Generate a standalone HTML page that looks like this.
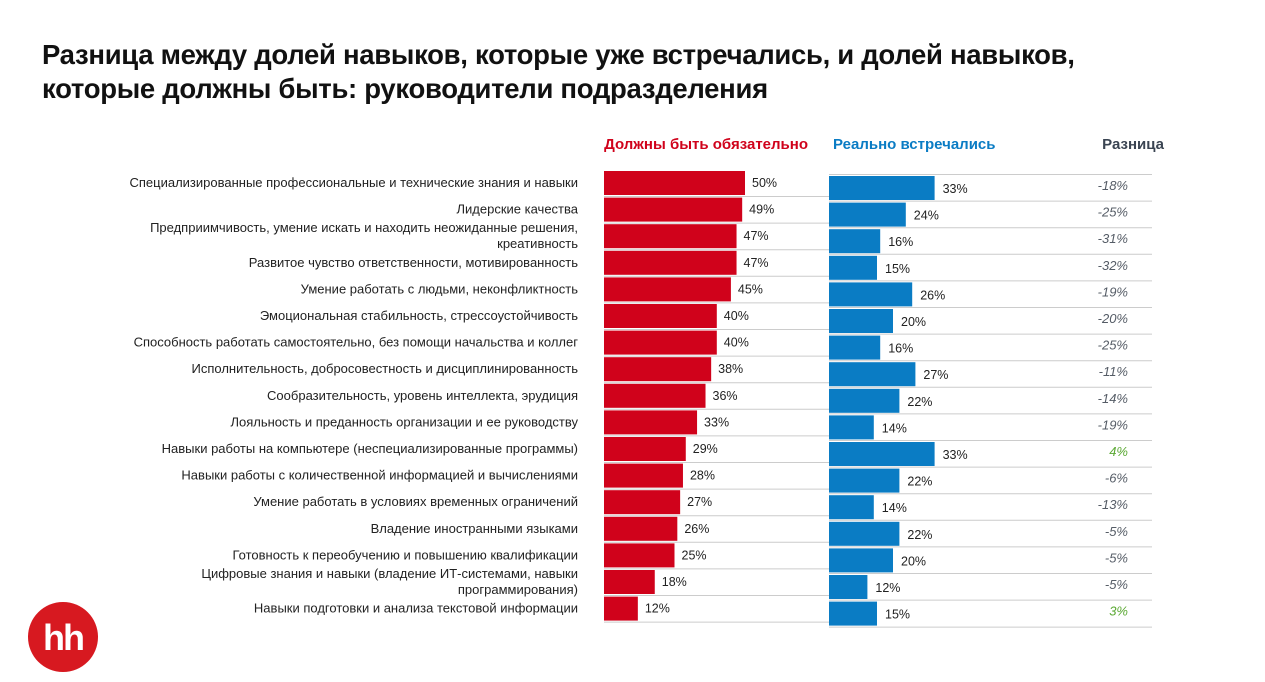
<!DOCTYPE html>
<html><head><meta charset="utf-8">
<style>
body{margin:0;width:1265px;height:682px;background:#fff;overflow:hidden;font-family:"Liberation Sans",sans-serif;}
#title{position:absolute;left:42px;top:38px;font-size:27.5px;font-weight:bold;line-height:34px;color:#111;letter-spacing:-0.3px}
svg{position:absolute;left:0;top:0}
</style></head><body>
<div id="title">Разница между долей навыков, которые уже встречались, и долей навыков,<br>которые должны быть: руководители подразделения</div>
<svg id="c" width="1265" height="682">
<circle cx="63" cy="637" r="35" fill="#d71920"/>
<text x="63" y="650" text-anchor="middle" font-size="36" font-weight="bold" fill="#fff" font-family="Liberation Sans,sans-serif" letter-spacing="-2">hh</text>
<text x="808" y="149" text-anchor="end" font-size="15" font-weight="bold" fill="#d0021b">Должны быть обязательно</text>
<text x="833" y="149" font-size="15" font-weight="bold" fill="#0a7cc4">Реально встречались</text>
<text x="1164" y="149" text-anchor="end" font-size="15" font-weight="bold" fill="#3a4452">Разница</text>
</svg>
<script>
const categories=[["Специализированные профессиональные и технические знания и навыки"],["Лидерские качества"],["Предприимчивость, умение искать и находить неожиданные решения,","креативность"],["Развитое чувство ответственности, мотивированность"],["Умение работать с людьми, неконфликтность"],["Эмоциональная стабильность, стрессоустойчивость"],["Способность работать самостоятельно, без помощи начальства и коллег"],["Исполнительность, добросовестность и дисциплинированность"],["Сообразительность, уровень интеллекта, эрудиция"],["Лояльность и преданность организации и ее руководству"],["Навыки работы на компьютере (неспециализированные программы)"],["Навыки работы с количественной информацией и вычислениями"],["Умение работать в условиях временных ограничений"],["Владение иностранными языками"],["Готовность к переобучению и повышению квалификации"],["Цифровые знания и навыки (владение ИТ-системами, навыки","программирования)"],["Навыки подготовки и анализа текстовой информации"]];
const required=[50,49,47,47,45,40,40,38,36,33,29,28,27,26,25,18,12];
const actual=[33,24,16,15,26,20,16,27,22,14,33,22,14,22,20,12,15];
const diffs=[-18,-25,-31,-32,-19,-20,-25,-11,-14,-19,4,-6,-13,-5,-5,-5,3];
const svg=document.getElementById('c');const NS='http://www.w3.org/2000/svg';
function mk(t,a,p){const e=document.createElementNS(NS,t);for(const k in a)e.setAttribute(k,a[k]);(p||svg).appendChild(e);return e;}
const pitch=26.6;
const xR=v=>v*2.82, xB=v=>v*3.2;
const yR=i=>171+i*pitch, yB=i=>176+i*pitch;
categories.forEach((lab,i)=>{
 const cy=yR(i)+12;
 const t=mk('text',{x:578,'text-anchor':'end','font-size':13,fill:'#222'});
 
 
 if(lab.length===1){t.setAttribute('y',cy+4);t.textContent=lab[0];}
 else{lab.forEach((s,j)=>{const ts=mk('tspan',{x:578,y:cy-4+j*16},t);ts.textContent=s;});}
 const r=mk('rect',{x:604,y:yR(i),width:xR(required[i]),height:24,fill:'#d0021b'});
 
 
 mk('line',{x1:604,x2:830,y1:yR(i)+25.5,y2:yR(i)+25.5,stroke:'#ccc','stroke-width':1});
 const rl=mk('text',{x:604+xR(required[i])+7,y:cy+4,'font-size':12.5,fill:'#222'});
 
 
 rl.textContent=required[i]+'%';
 const b=mk('rect',{x:829,y:yB(i),width:xB(actual[i]),height:24,fill:'#0a7cc4'});
 
 
 mk('line',{x1:829,x2:1152,y1:yB(i)-1.5,y2:yB(i)-1.5,stroke:'#ccc','stroke-width':1});
 if(i===categories.length-1)mk('line',{x1:829,x2:1152,y1:yB(i)+25.5,y2:yB(i)+25.5,stroke:'#ccc','stroke-width':1});
 const bl=mk('text',{x:829+xB(actual[i])+8,y:yB(i)+17,'font-size':12.5,fill:'#222'});
 
 
 bl.textContent=actual[i]+'%';
 const d=mk('text',{x:1128,y:yB(i)+14,'text-anchor':'end','font-size':13,'font-style':'italic',fill:diffs[i]>0?'#5aa832':'#555c66'});
 
 
 d.textContent=diffs[i]+'%';
});
</script>
</body></html>
